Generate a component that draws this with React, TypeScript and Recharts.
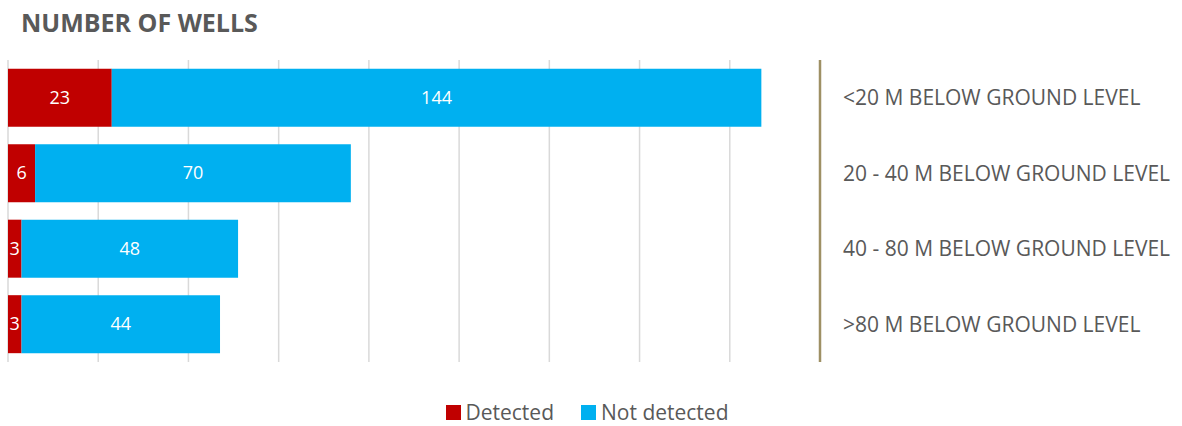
import { Bar, BarChart, CartesianGrid, LabelList, Legend, XAxis, YAxis } from "recharts";

const depthBands = [
  "<20 M BELOW GROUND LEVEL",
  "20 - 40 M BELOW GROUND LEVEL",
  "40 - 80 M BELOW GROUND LEVEL",
  ">80 M BELOW GROUND LEVEL",
];
const detected = [23, 6, 3, 3];
const notDetected = [144, 70, 48, 44];
const xTicks = [0, 20, 40, 60, 80, 100, 120, 140, 160, 180];

const data = depthBands.map((band, i) => ({
  band,
  detected: detected[i],
  notDetected: notDetected[i],
}));

const FONT = "'Open Sans', sans-serif";
const GREY = "#595959";

const CategoryTick = ({ x, y, payload }: any) => (
  <text
    x={Number(x) + 15}
    y={Number(y)}
    dy=".35em"
    textAnchor="start"
    fill={GREY}
    fontSize={21}
    fontFamily={FONT}
  >
    {payload.value}
  </text>
);

const BarLabel = ({ x, y, width, height, value }: any) => (
  <text
    x={Number(x) + Number(width) / 2}
    y={Number(y) + Number(height) / 2}
    dy=".35em"
    textAnchor="middle"
    fill="#ffffff"
    fontSize={18}
    fontFamily={FONT}
  >
    {value}
  </text>
);

const LegendContent = () => (
  <div
    style={{
      display: "flex",
      justifyContent: "center",
      gap: 27,
      paddingTop: 35,
      paddingRight: 16,
      fontFamily: FONT,
      fontSize: 21,
      color: GREY,
      lineHeight: "28px",
    }}
  >
    {[
      { name: "Detected", color: "#C00000" },
      { name: "Not detected", color: "#00B0F0" },
    ].map((item) => (
      <div key={item.name} style={{ display: "flex", alignItems: "center", gap: 5 }}>
        <span style={{ width: 15, height: 15, background: item.color, display: "inline-block" }} />
        <span>{item.name}</span>
      </div>
    ))}
  </div>
);

export default function App() {
  return (
    <div style={{ position: "absolute", left: 0, top: 0, width: 1182, height: 426, background: "#fff" }}>
      <div
        style={{
          position: "absolute",
          left: 21,
          top: 5,
          fontFamily: FONT,
          fontWeight: 700,
          fontSize: 25,
          color: GREY,
        }}
      >
        NUMBER OF WELLS
      </div>
      <BarChart
        width={1182}
        height={426}
        layout="vertical"
        data={data}
        margin={{ top: 60, right: 0, left: 8, bottom: 0 }}
        barCategoryGap="11.5%"
      >
        <CartesianGrid horizontal={false} stroke="#d9d9d9" strokeWidth={1.5} />
        <XAxis
          type="number"
          domain={[0, 180]}
          ticks={xTicks}
          axisLine={false}
          tickLine={false}
          tick={{ fill: "transparent" }}
          height={1}
        />
        <YAxis
          type="category"
          dataKey="band"
          orientation="right"
          width={362}
          axisLine={{ stroke: "#9E9064", strokeWidth: 2.5 }}
          tickLine={false}
          tick={<CategoryTick />}
        />
        <Legend verticalAlign="bottom" height={63} content={<LegendContent />} />
        <Bar dataKey="detected" name="Detected" stackId="a" fill="#C00000" isAnimationActive={false}>
          <LabelList dataKey="detected" content={<BarLabel />} />
        </Bar>
        <Bar dataKey="notDetected" name="Not detected" stackId="a" fill="#00B0F0" isAnimationActive={false}>
          <LabelList dataKey="notDetected" content={<BarLabel />} />
        </Bar>
      </BarChart>
    </div>
  );
}
